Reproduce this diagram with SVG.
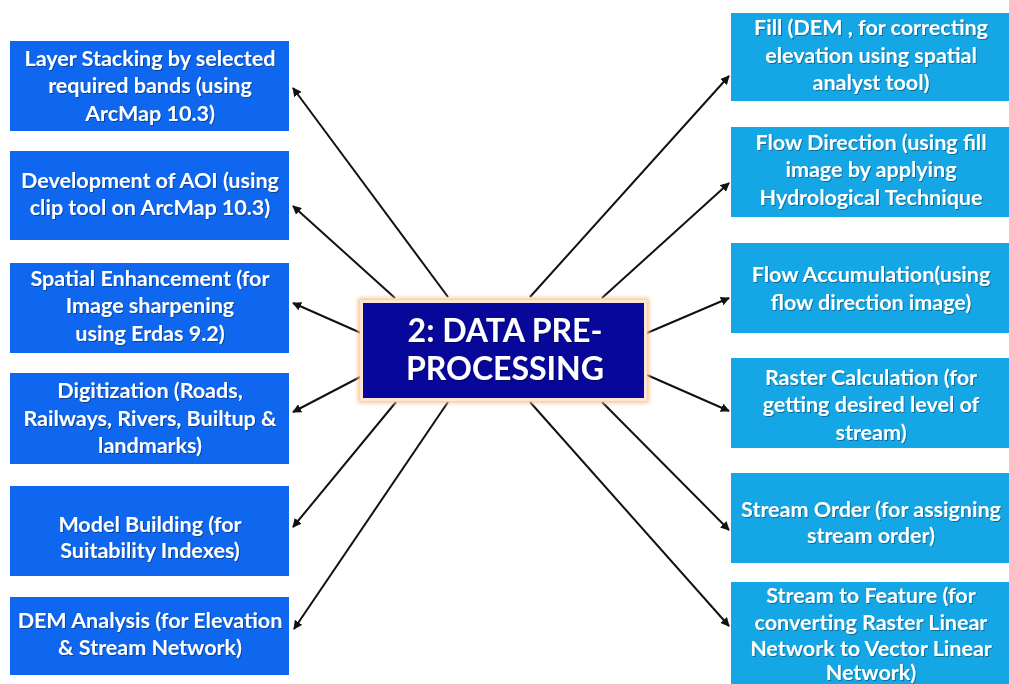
<svg xmlns="http://www.w3.org/2000/svg" width="1009" height="684" viewBox="0 0 1009 684">
  <defs>
    <marker id="arrow" viewBox="0 0 10 10" refX="9" refY="5" markerWidth="9" markerHeight="9" markerUnits="userSpaceOnUse" orient="auto">
      <path d="M0,0 L10,5 L0,10 z" fill="#111"/>
    </marker>
    <filter id="glow" x="-10%" y="-20%" width="120%" height="140%">
      <feGaussianBlur stdDeviation="2"/>
    </filter>
    <filter id="shadow" x="-5%" y="-20%" width="110%" height="140%">
      <feDropShadow dx="1" dy="1" stdDeviation="0.6" flood-color="#000" flood-opacity="0.35"/>
    </filter>
  </defs>
  <style>
    .left { fill: #0f67f0; }
    .right { fill: #15a6e6; }
    .label { font-family: Lato, "Open Sans", "Liberation Sans", sans-serif; font-weight: bold; font-size: 21.5px; fill: #ffffff; text-anchor: middle; }
    .title { font-family: Lato, "Open Sans", "Liberation Sans", sans-serif; font-weight: bold; font-size: 32px; fill: #ffffff; text-anchor: middle; }
    .conn { stroke: #111; stroke-width: 2; fill: none; marker-end: url(#arrow); }
  </style>
  <rect width="1009" height="684" fill="#ffffff"/>

  <!-- connectors from the central node -->
  <g id="connectors">
    <line class="conn" x1="448" y1="297" x2="293" y2="88"/>
    <line class="conn" x1="395" y1="298" x2="293" y2="206"/>
    <line class="conn" x1="361" y1="333" x2="293" y2="303"/>
    <line class="conn" x1="362" y1="376" x2="293" y2="412"/>
    <line class="conn" x1="396" y1="402" x2="293" y2="527"/>
    <line class="conn" x1="448" y1="402" x2="294" y2="629"/>

    <line class="conn" x1="530" y1="297" x2="729" y2="76"/>
    <line class="conn" x1="602" y1="298" x2="729" y2="183"/>
    <line class="conn" x1="647" y1="333" x2="729" y2="298"/>
    <line class="conn" x1="647" y1="375" x2="729" y2="411"/>
    <line class="conn" x1="602" y1="402" x2="729" y2="530"/>
    <line class="conn" x1="530" y1="402" x2="729" y2="626"/>
  </g>

  <!-- central node -->
  <g id="center">
    <rect x="358" y="298" width="291" height="105" fill="#f7c593" filter="url(#glow)"/>
    <rect x="360" y="300" width="287" height="101" fill="#fde7d2"/>
    <rect x="363" y="303" width="281" height="95" fill="#07079a"/>
    <g filter="url(#shadow)">
      <text class="title" x="505" y="342">2: DATA PRE-</text>
      <text class="title" x="505" y="380">PROCESSING</text>
    </g>
  </g>

  <!-- left column -->
  <g id="layer-stacking">
    <rect class="left" x="10" y="41" width="279" height="90"/>
    <g filter="url(#shadow)">
      <text class="label" x="150" y="66">Layer Stacking by selected</text>
      <text class="label" x="150" y="93">required bands (using</text>
      <text class="label" x="150" y="121">ArcMap 10.3)</text>
    </g>
  </g>
  <g id="aoi">
    <rect class="left" x="10" y="151" width="279" height="89"/>
    <g filter="url(#shadow)">
      <text class="label" x="150" y="188">Development of AOI (using</text>
      <text class="label" x="150" y="215">clip tool on ArcMap 10.3)</text>
    </g>
  </g>
  <g id="spatial-enhancement">
    <rect class="left" x="10" y="263" width="279" height="90"/>
    <g filter="url(#shadow)">
      <text class="label" x="150" y="286">Spatial Enhancement (for</text>
      <text class="label" x="150" y="313">Image sharpening</text>
      <text class="label" x="150" y="341">using Erdas 9.2)</text>
    </g>
  </g>
  <g id="digitization">
    <rect class="left" x="10" y="373" width="279" height="91"/>
    <g filter="url(#shadow)">
      <text class="label" x="150" y="398">Digitization (Roads,</text>
      <text class="label" x="150" y="426">Railways, Rivers, Builtup &amp;</text>
      <text class="label" x="150" y="453">landmarks)</text>
    </g>
  </g>
  <g id="model-building">
    <rect class="left" x="10" y="486" width="279" height="90"/>
    <g filter="url(#shadow)">
      <text class="label" x="150" y="532">Model Building (for</text>
      <text class="label" x="150" y="558">Suitability Indexes)</text>
    </g>
  </g>
  <g id="dem-analysis">
    <rect class="left" x="10" y="597" width="279" height="78"/>
    <g filter="url(#shadow)">
      <text class="label" x="150" y="628">DEM Analysis (for Elevation</text>
      <text class="label" x="150" y="655">&amp; Stream Network)</text>
    </g>
  </g>

  <!-- right column -->
  <g id="fill">
    <rect class="right" x="731" y="13" width="280" height="88"/>
    <g filter="url(#shadow)">
      <text class="label" x="871" y="35">Fill (DEM , for correcting</text>
      <text class="label" x="871" y="63">elevation using spatial</text>
      <text class="label" x="871" y="90">analyst tool)</text>
    </g>
  </g>
  <g id="flow-direction">
    <rect class="right" x="731" y="127" width="280" height="90"/>
    <g filter="url(#shadow)">
      <text class="label" x="871" y="150">Flow Direction (using fill</text>
      <text class="label" x="871" y="177">image by applying</text>
      <text class="label" x="871" y="205">Hydrological Technique</text>
    </g>
  </g>
  <g id="flow-accumulation">
    <rect class="right" x="731" y="243" width="280" height="90"/>
    <g filter="url(#shadow)">
      <text class="label" x="871" y="282">Flow Accumulation(using</text>
      <text class="label" x="871" y="310">flow direction image)</text>
    </g>
  </g>
  <g id="raster-calculation">
    <rect class="right" x="731" y="358" width="280" height="90"/>
    <g filter="url(#shadow)">
      <text class="label" x="871" y="385">Raster Calculation (for</text>
      <text class="label" x="871" y="412">getting desired level of</text>
      <text class="label" x="871" y="440">stream)</text>
    </g>
  </g>
  <g id="stream-order">
    <rect class="right" x="731" y="473" width="280" height="90"/>
    <g filter="url(#shadow)">
      <text class="label" x="871" y="517">Stream Order (for assigning</text>
      <text class="label" x="871" y="543">stream order)</text>
    </g>
  </g>
  <g id="stream-to-feature">
    <rect class="right" x="731" y="582" width="280" height="110"/>
    <g filter="url(#shadow)">
      <text class="label" x="871" y="603">Stream to Feature (for</text>
      <text class="label" x="871" y="630">converting Raster Linear</text>
      <text class="label" x="871" y="656">Network to Vector Linear</text>
      <text class="label" x="871" y="680">Network)</text>
    </g>
  </g>
</svg>
